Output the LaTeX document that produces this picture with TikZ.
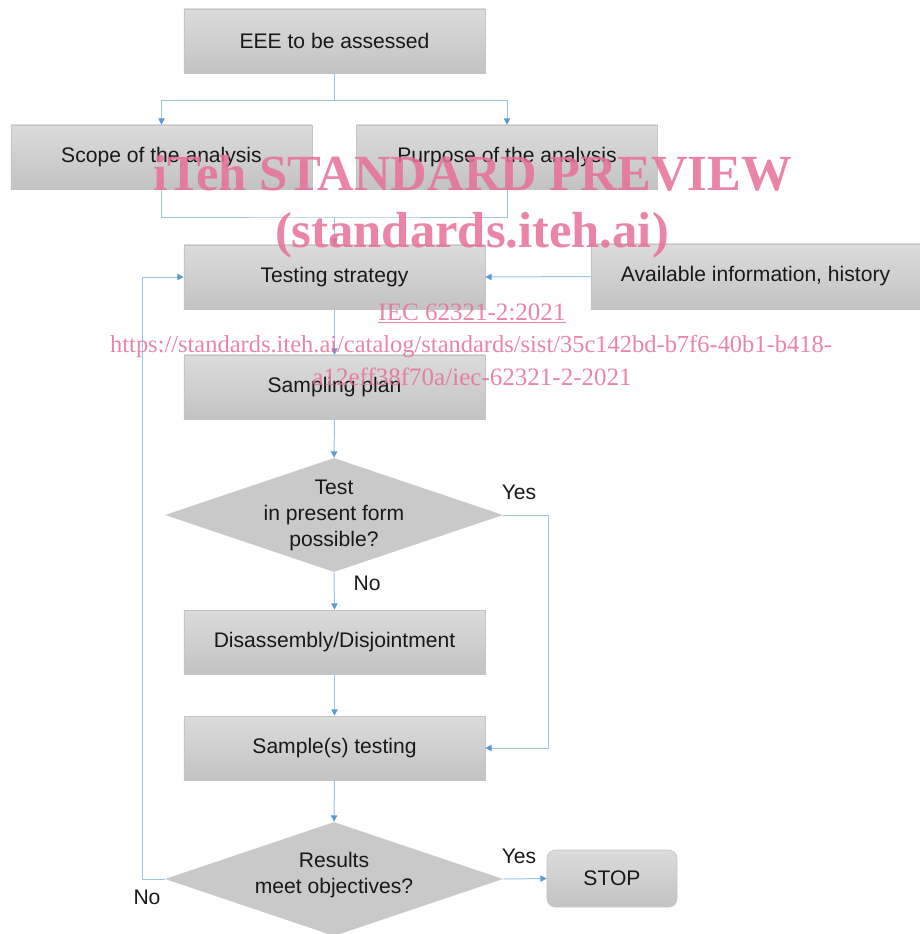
\documentclass[tikz,border=0pt]{standalone}
\usepackage{fontspec}
\setmainfont{Liberation Sans}
\newfontfamily\markfont{Liberation Serif}
\usetikzlibrary{shapes.geometric,arrows.meta}

\definecolor{linkblue}{RGB}{157,195,230}
\definecolor{tipblue}{RGB}{91,155,213}
\definecolor{boxedge}{RGB}{196,196,196}
\definecolor{marktone}{RGB}{232,112,150}

\tikzset{
  box/.style={draw=boxedge, top color=gray!28, bottom color=gray!47,
    minimum width=7.525cm, minimum height=1.6cm, inner sep=0pt,
    text=black!90, font=\fontsize{15}{18.5}\selectfont},
  stopbox/.style={box, rounded corners=6pt, minimum width=3.25cm, minimum height=1.425cm},
  decision/.style={diamond, fill=gray!42, draw=none, inner sep=0pt,
    minimum width=8.45cm, minimum height=2.85cm},
  qtext/.style={align=center, text=black!90, font=\fontsize{15}{18.5}\selectfont},
  answer/.style={text=black!90, font=\fontsize{15}{18.5}\selectfont},
  line/.style={draw=linkblue, line width=0.7pt},
  link/.style={line, -{Triangle[length=4.5pt,width=4.5pt,color=tipblue]}},
  stamp/.style={text=marktone, opacity=0.85, anchor=base},
}

\begin{document}
\begin{tikzpicture}[x=0.025cm, y=-0.025cm]
    \useasboundingbox (0,0) rectangle (920,934);

    % boxes
    \node[box] (eee) at (334.5,41) {EEE to be assessed};
    \node[box] (scope) at (161.5,157) {Scope of the analysis};
    \node[box] (purpose) at (507,157) {Purpose of the analysis};
    \node[box] (strategy) at (334.5,277) {Testing strategy};
    \node[box, minimum width=8.225cm, minimum height=1.625cm] (info) at (755.5,276.5) {Available information, history};
    \node[box] (plan) at (334.5,387) {Sampling plan};
    \node[decision] (test) at (334,515) {};
    \node[qtext] (testq) at (334,515.5) {Test\\in present form\\possible?};
    \node[box] (disassembly) at (334.5,642) {Disassembly/Disjointment};
    \node[box] (sample) at (334.5,748) {Sample(s) testing};
    \node[decision] (results) at (334,879) {};
    \node[qtext] (resultsq) at (334,875) {Results\\meet objectives?};
    \node[stopbox] (stop) at (612,878.5) {STOP};

    \coordinate (split) at (334.5,100);
    \coordinate (join) at (334.5,217);

    % connectors
    \draw[line] (eee.south) -- (split);
    \draw[link] (split) -| (scope.north);
    \draw[link] (split) -| (purpose.north);
    \draw[line] (scope.south) |- (join) -| (purpose.south);
    \draw[link] (join) -- (strategy.north);
    \draw[link] (info.west) -- (strategy.east);
    \draw[link] (strategy.south) -- (plan.north);
    \draw[link] (plan.south) -- (test.north);
    \draw[link] (test.south) -- (disassembly.north);
    \draw[link] (test.east) -- ++(45,0) |- (sample.east);
    \draw[link] (disassembly.south) -- (sample.north);
    \draw[link] (sample.south) -- (results.north);
    \draw[link] (results.east) -- (stop.west);
    \draw[link] (results.west) -- ++(-22,0) |- (strategy.west);

    \node[answer] (yes1) at (519,492) {Yes};
    \node[answer] (no1) at (367,583) {No};
    \node[answer] (yes2) at (519,856) {Yes};
    \node[answer] (no2) at (147,897) {No};

    % overlay
    \node[stamp, font=\markfont\bfseries\fontsize{36}{40}\selectfont] (wm1) at (472.5,190) {iTeh STANDARD PREVIEW};
    \node[stamp, font=\markfont\bfseries\fontsize{36}{40}\selectfont] (wm2) at (472,247) {(standards.iteh.ai)};
    \node[stamp, font=\markfont\fontsize{17.8}{22}\selectfont] (wm3) at (472,320) {\underline{IEC 62321-2:2021}};
    \node[stamp, font=\markfont\fontsize{17.4}{22}\selectfont] (wm4) at (471,352) {https://standards.iteh.ai/catalog/standards/sist/35c142bd-b7f6-40b1-b418-};
    \node[stamp, font=\markfont\fontsize{17.8}{22}\selectfont] (wm5) at (472,385) {a12eff38f70a/iec-62321-2-2021};
  \end{tikzpicture}
\end{document}
